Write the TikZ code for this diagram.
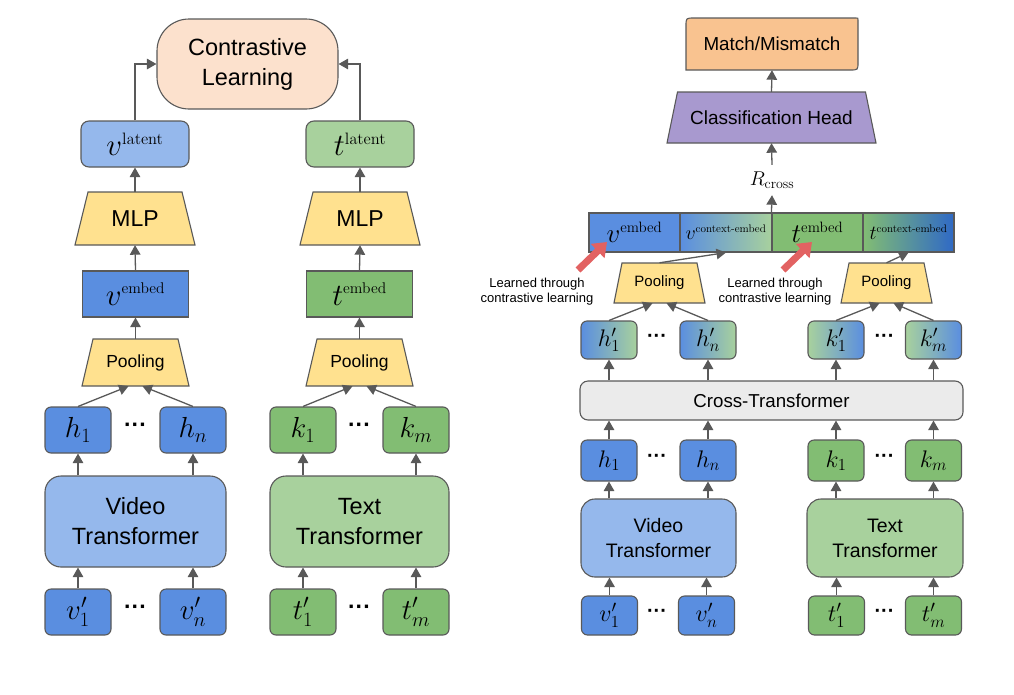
\documentclass[tikz,border=0pt]{standalone}
\usepackage{fix-cm}
\usepackage[no-math]{fontspec}
\setmainfont{Liberation Sans}
\usetikzlibrary{arrows.meta}
\definecolor{lineC}{HTML}{595959}
\definecolor{blueC}{HTML}{5A8EE0}
\definecolor{lblueC}{HTML}{95B8EC}
\definecolor{greenC}{HTML}{82BD73}
\definecolor{lgreenC}{HTML}{A8D19D}
\definecolor{yelC}{HTML}{FFE18F}
\definecolor{peachC}{HTML}{FCE1CD}
\definecolor{mmC}{HTML}{F9C390}
\definecolor{purC}{HTML}{A899CF}
\definecolor{greyC}{HTML}{EBEBEB}
\definecolor{redC}{HTML}{E26262}
\definecolor{dblueC}{HTML}{2F69C6}
\newcommand\mysup[2]{\mbox{\fontsize{#1}{#1}\usefont{OT1}{cmr}{m}{n}#2}}
\newcommand\fs[1]{\fontsize{#1}{#1}\selectfont}
\newcommand\mydots{\bfseries\kern0pt ^^b7^^b7^^b7}
% name, cx, cy, bottom width, top width, height, fill, font size, text
\newcommand\trapez[9]{%
  \filldraw[boxline, fill=#7] ({#2-#4/2},{#3+#6/2}) -- ({#2+#4/2},{#3+#6/2})
     -- ({#2+#5/2},{#3-#6/2}) -- ({#2-#5/2},{#3-#6/2}) -- cycle;
  \node[inner sep=0pt, minimum width=#4pt, minimum height=#6pt, font=\fs{#8}] (#1) at (#2,#3) {#9};%
}
\begin{document}
\begin{tikzpicture}[x=1pt,y=-1pt,
  boxline/.style={draw=lineC, line width=1.1pt},
  tok/.style={boxline, rounded corners=6pt, minimum width=66pt, minimum height=46pt, inner sep=0pt, font=\fs{29}},
  rtok/.style={boxline, rounded corners=6pt, minimum width=56pt, inner sep=0pt, font=\fs{24}},
  rect/.style={boxline, inner sep=0pt},
  cell/.style={boxline, minimum width=91pt, minimum height=39pt, inner sep=0pt},
  bigbox/.style={boxline, inner sep=0pt, align=center},
  arr/.style={draw=lineC, line width=1.3pt, -{Triangle[length=9.5pt,width=10.5pt]}},
  redarr/.style={draw=redC, line width=7pt, -{Triangle[length=13pt,width=19pt]}},
  dots/.style={inner sep=0pt},
  note/.style={align=center, font=\fontsize{13}{15}\selectfont, inner sep=0pt}]
\useasboundingbox (0,0) rectangle (1014,694);

%================ LEFT =================
\node[bigbox, fill=peachC, rounded corners=32pt, minimum width=181pt, minimum height=90pt,
      font=\fontsize{23.5}{30}\selectfont] (cl) at (247.5,64) {Contrastive\\Learning};
\node[tok, fill=lblueC, minimum width=108pt, rounded corners=8pt, font=\fs{31}] (vlat) at (135,144) {$v^{\mysup{16.5}{latent}}$};
\node[tok, fill=lgreenC, minimum width=108pt, rounded corners=8pt, font=\fs{31}] (tlat) at (360,144) {$t^{\mysup{16.5}{latent}}$};
\trapez{mlpv}{135}{218.5}{120}{94}{53}{yelC}{23}{MLP}
\trapez{mlpt}{360}{218.5}{120}{94}{53}{yelC}{23}{MLP}
\node[rect, fill=blueC, minimum width=106pt, minimum height=46pt, font=\fs{31}] (vemb) at (135.5,294) {$v^{\mysup{15.5}{embed}}$};
\node[rect, fill=greenC, minimum width=106pt, minimum height=46pt, font=\fs{31}] (temb) at (359.5,294) {$t^{\mysup{15.5}{embed}}$};
\trapez{poolv}{135.5}{362.5}{107}{85}{47}{yelC}{17.5}{Pooling}
\trapez{poolt}{359.5}{362.5}{107}{85}{47}{yelC}{17.5}{Pooling}

\node[tok, fill=blueC] (h1) at (78,430) {$h_1$};
\node[tok, fill=blueC] (hn) at (193,430) {$h_n$};
\node[dots, font=\fs{23}] (hd) at (135.5,428) {\mydots};
\node[tok, fill=greenC] (k1) at (303,430) {$k_1$};
\node[tok, fill=greenC] (km) at (416,430) {$k_m$};
\node[dots, font=\fs{23}] (kd) at (359.5,428) {\mydots};

\node[bigbox, fill=lblueC, rounded corners=16pt, minimum width=181pt, minimum height=91pt,
      font=\fontsize{23.5}{30}\selectfont] (vt) at (135.5,521.5) {Video\\Transformer};
\node[bigbox, fill=lgreenC, rounded corners=16pt, minimum width=179pt, minimum height=91pt,
      font=\fontsize{23.5}{30}\selectfont] (tt) at (359.5,521.5) {Text\\Transformer};

\node[tok, fill=blueC] (vi1) at (78,612) {$v'_1$};
\node[tok, fill=blueC] (vin) at (193,612) {$v'_n$};
\node[dots, font=\fs{23}] (vd) at (135.5,610) {\mydots};
\node[tok, fill=greenC] (ti1) at (303,612) {$t'_1$};
\node[tok, fill=greenC] (tim) at (416,612) {$t'_m$};
\node[dots, font=\fs{23}] (td) at (359.5,610) {\mydots};

% left arrows
\draw[arr] (vi1.north) -- (vi1.north |- vt.south);
\draw[arr] (vin.north) -- (vin.north |- vt.south);
\draw[arr] (ti1.north) -- (ti1.north |- tt.south);
\draw[arr] (tim.north) -- (tim.north |- tt.south);
\draw[arr] (vt.north -| h1) -- (h1.south);
\draw[arr] (vt.north -| hn) -- (hn.south);
\draw[arr] (tt.north -| k1) -- (k1.south);
\draw[arr] (tt.north -| km) -- (km.south);
\draw[arr] (h1.north) -- ([xshift=-7pt]poolv.south);
\draw[arr] (hn.north) -- ([xshift=7pt]poolv.south);
\draw[arr] (k1.north) -- ([xshift=-7pt]poolt.south);
\draw[arr] (km.north) -- ([xshift=7pt]poolt.south);
\draw[arr] (poolv.north) -- (vemb.south);
\draw[arr] (poolt.north) -- (temb.south);
\draw[arr] (vemb.north) -- (mlpv.south);
\draw[arr] (temb.north) -- (mlpt.south);
\draw[arr] (mlpv.north) -- (vlat.south);
\draw[arr] (mlpt.north) -- (tlat.south);
\draw[arr] (vlat.north) |- (cl.west);
\draw[arr] (tlat.north) |- (cl.east);

%================ RIGHT =================
\filldraw[boxline, fill=mmC] (686,70) -- (686,26) .. controls (686,18) .. (694,18) -- (856,18)
   .. controls (858,18) .. (858,20) -- (858,62) .. controls (858,70) .. (850,70) -- cycle;
\node[inner sep=0pt, minimum width=172pt, minimum height=52pt, font=\fs{18.8}] (mm) at (772,44) {Match/Mismatch};
\trapez{ch}{771.5}{117.5}{209}{188}{51}{purC}{19}{Classification Head}
\node[inner sep=0pt, minimum height=30pt, font=\fs{20}] (rc) at (772,180) {$R_{\mysup{14}{cross}}$};

\node[cell, fill=blueC, font=\fs{27}] (c1) at (634.5,232.5) {$v^{\mysup{15}{embed}}$};
\node[cell, left color=blueC, right color=lgreenC, minimum width=92pt, font=\fs{20}] (c2) at (726,232.5) {$v^{\mysup{11}{context-embed}}$};
\node[cell, fill=greenC, font=\fs{27}] (c3) at (817.5,232.5) {$t^{\mysup{15}{embed}}$};
\node[cell, left color=greenC, right color=dblueC, font=\fs{20}] (c4) at (908.5,232.5) {$t^{\mysup{11}{context-embed}}$};

\trapez{pr1}{659.5}{283}{91}{75}{40}{yelC}{15}{Pooling}
\trapez{pr2}{886.5}{283}{91}{75}{40}{yelC}{15}{Pooling}

\node[note] (n1) at (537,292) {Learned through\\contrastive learning};
\node[note] (n2) at (775,292) {Learned through\\contrastive learning};
\coordinate (r1s) at (578,270);
\coordinate (r1e) at (607,242);
\coordinate (r2s) at (783,270);
\coordinate (r2e) at (812,242);
\draw[redarr] (r1s) -- (r1e);
\draw[redarr] (r2s) -- (r2e);

\node[rtok, minimum height=38pt, left color=blueC, right color=lgreenC] (hp1) at (609,340) {$h'_1$};
\node[rtok, minimum height=38pt, left color=blueC, right color=lgreenC] (hpn) at (708,340) {$h'_n$};
\node[dots, font=\fs{20}] (hpd) at (657,338) {\mydots};
\node[rtok, minimum height=38pt, left color=lgreenC, right color=blueC] (kp1) at (836,340) {$k'_1$};
\node[rtok, minimum height=38pt, left color=lgreenC, right color=blueC] (kpm) at (933.5,340) {$k'_m$};
\node[dots, font=\fs{20}] (kpd) at (884.5,338) {\mydots};

\node[boxline, fill=greyC, rounded corners=8pt, minimum width=383pt, minimum height=39pt, inner sep=0pt, font=\fs{18.7}] (ct) at (771.5,400.5) {Cross-Transformer};

\node[rtok, minimum height=41pt, fill=blueC] (rh1) at (609,460.5) {$h_1$};
\node[rtok, minimum height=41pt, fill=blueC] (rhn) at (708,460.5) {$h_n$};
\node[dots, font=\fs{20}] (rhd) at (657,458.5) {\mydots};
\node[rtok, minimum height=41pt, fill=greenC] (rk1) at (836,460.5) {$k_1$};
\node[rtok, minimum height=41pt, fill=greenC] (rkm) at (933.5,460.5) {$k_m$};
\node[dots, font=\fs{20}] (rkd) at (884.5,458.5) {\mydots};

\node[bigbox, fill=lblueC, rounded corners=14pt, minimum width=155pt, minimum height=78pt,
      font=\fontsize{19.5}{25}\selectfont] (rvt) at (658.5,538) {Video\\Transformer};
\node[bigbox, fill=lgreenC, rounded corners=14pt, minimum width=156pt, minimum height=78pt,
      font=\fontsize{19.5}{25}\selectfont] (rtt) at (885,538) {Text\\Transformer};

\node[rtok, minimum height=39pt, fill=blueC] (rv1) at (609.5,615.5) {$v'_1$};
\node[rtok, minimum height=39pt, fill=blueC] (rvn) at (706.5,615.5) {$v'_n$};
\node[dots, font=\fs{20}] (rvd) at (657,613.5) {\mydots};
\node[rtok, minimum height=39pt, fill=greenC] (rt1) at (836.5,615.5) {$t'_1$};
\node[rtok, minimum height=39pt, fill=greenC] (rtm) at (933.5,615.5) {$t'_m$};
\node[dots, font=\fs{20}] (rtd) at (884.5,613.5) {\mydots};

% right arrows
\draw[arr] (rv1.north) -- (rv1.north |- rvt.south);
\draw[arr] (rvn.north) -- (rvn.north |- rvt.south);
\draw[arr] (rt1.north) -- (rt1.north |- rtt.south);
\draw[arr] (rtm.north) -- (rtm.north |- rtt.south);
\draw[arr] (rvt.north -| rh1) -- (rh1.south);
\draw[arr] (rvt.north -| rhn) -- (rhn.south);
\draw[arr] (rtt.north -| rk1) -- (rk1.south);
\draw[arr] (rtt.north -| rkm) -- (rkm.south);
\draw[arr] (rh1.north) -- (rh1.north |- ct.south);
\draw[arr] (rhn.north) -- (rhn.north |- ct.south);
\draw[arr] (rk1.north) -- (rk1.north |- ct.south);
\draw[arr] (rkm.north) -- (rkm.north |- ct.south);
\draw[arr] (ct.north -| hp1) -- (hp1.south);
\draw[arr] (ct.north -| hpn) -- (hpn.south);
\draw[arr] (ct.north -| kp1) -- (kp1.south);
\draw[arr] (ct.north -| kpm) -- (kpm.south);
\draw[arr] (hp1.north) -- ([xshift=-7pt]pr1.south);
\draw[arr] (hpn.north) -- ([xshift=7pt]pr1.south);
\draw[arr] (kp1.north) -- ([xshift=-7pt]pr2.south);
\draw[arr] (kpm.north) -- ([xshift=7pt]pr2.south);
\draw[arr] (pr1.north) -- (c2.south);
\draw[arr] (pr2.north) -- (c4.south);
\draw[arr] (c3.north west) -- (rc.south);
\draw[arr] (rc.north) -- (ch.south);
\draw[arr] (ch.north) -- (mm.south);
\end{tikzpicture}
\end{document}
